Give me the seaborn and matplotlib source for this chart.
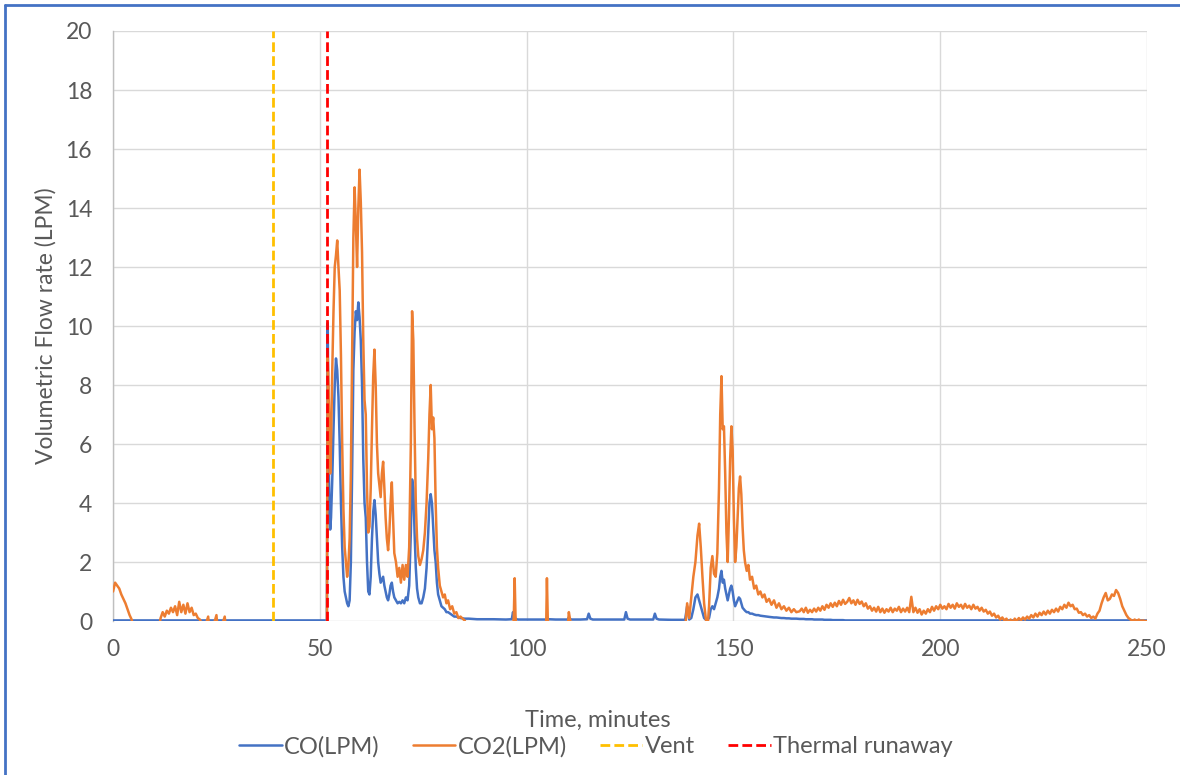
import matplotlib
matplotlib.use("Agg")
import matplotlib.pyplot as plt
from matplotlib.lines import Line2D
import seaborn as sns
import pandas as pd

# ---------------------------------------------------------------- data
# start-up, thermal-runaway burst and second venting episode
time_main = [
    0, 0.5, 1, 1.5, 2, 2.5, 3, 3.5, 4, 4.5,
    5, 8, 11, 11.5, 12, 12.5, 13, 13.5, 14, 14.5,
    15, 15.5, 16, 16.5, 17, 17.5, 18, 18.5, 19, 19.5,
    20, 20.5, 21, 22, 23, 23.3, 24, 25, 25.3, 26,
    27, 27.3, 28, 35, 45, 51.5, 51.7, 51.9, 52.1, 52.3,
    52.5, 52.7, 53.0, 53.3, 53.6, 53.9, 54.2, 54.5, 54.8, 55.1,
    55.4, 55.7, 56.0, 56.3, 56.6, 56.9, 57.2, 57.5, 57.8, 58.1,
    58.4, 58.7, 59.0, 59.3, 59.6, 59.9, 60.2, 60.5, 60.8, 61.1,
    61.4, 61.7, 62.0, 62.3, 62.6, 62.9, 63.2, 63.5, 63.8, 64.1,
    64.4, 64.7, 65.0, 65.3, 65.6, 65.9, 66.2, 66.5, 66.8, 67.1,
    67.4, 67.7, 68.0, 68.4, 68.8, 69.2, 69.6, 70.0, 70.4, 70.8,
    71.2, 71.6, 72.0, 72.3, 72.6, 72.9, 73.2, 73.5, 73.8, 74.2,
    74.6, 75.0, 75.4, 75.8, 76.2, 76.5, 76.8, 77.1, 77.4, 77.7,
    78.0, 78.3, 78.6, 79.0, 79.4, 79.8, 80.2, 80.6, 81.0, 81.5,
    82.0, 82.5, 83.0, 83.5, 84.0, 85.0, 86.0, 88.0, 90.0, 92.0,
    95, 96.4, 96.7, 96.9, 97.1, 97.3, 97.5, 98, 100, 103,
    104.7, 104.9, 105.1, 105.3, 107, 109.9, 110.2, 110.5, 111, 113,
    114.6, 115, 115.4, 116, 120, 123.6, 124, 124.4, 125, 128,
    130.6, 131, 131.4, 132, 135, 137.5, 138.3, 138.8, 139.3, 139.8,
    140.3, 140.8, 141.3, 141.7, 142.1, 142.5, 142.9, 143.3, 143.7, 144.1,
    144.5, 144.9, 145.3, 145.7, 146.1, 146.5, 146.8, 147.1, 147.4, 147.7,
    148.0, 148.3, 148.6, 148.9, 149.2, 149.5, 149.8, 150.1, 150.4, 150.7,
    151.0, 151.3, 151.6, 151.9, 152.2, 152.5, 152.8, 153.2, 153.6, 154.0,
    154.5, 155.0, 155.5, 156.0, 156.5, 157.0, 157.5, 158.0, 158.6, 159.2,
    159.8, 160.4, 161.0, 161.6, 162.2, 162.8, 163.4, 164.0, 164.6, 165.2,
]

co_main = [
    0.02, 0.02, 0.02, 0.02, 0.02, 0.02, 0.02, 0.02, 0.02, 0.02,
    0.02, 0.02, 0.02, 0.02, 0.02, 0.02, 0.02, 0.02, 0.02, 0.02,
    0.02, 0.02, 0.02, 0.02, 0.02, 0.02, 0.02, 0.02, 0.02, 0.02,
    0.02, 0.02, 0.02, 0.02, 0.02, 0.02, 0.02, 0.02, 0.02, 0.02,
    0.02, 0.02, 0.02, 0.02, 0.02, 0.02, 0.02, 10.1, 6.0, 4.0,
    3.1, 3.5, 4.8, 6.5, 8.0, 8.9, 8.5, 7.6, 6.0, 4.0,
    2.5, 1.5, 1.0, 0.8, 0.6, 0.5, 0.7, 2.0, 5.0, 8.5,
    9.8, 10.5, 10.2, 10.8, 10.3, 9.5, 8.0, 5.5, 4.0, 3.5,
    2.0, 1.0, 0.9, 1.5, 2.8, 3.7, 4.1, 3.6, 2.8, 2.0,
    1.6, 1.3, 1.4, 1.5, 1.2, 1.0, 0.8, 0.7, 0.9, 1.2,
    1.3, 1.0, 0.8, 0.7, 0.6, 0.65, 0.6, 0.7, 0.6, 0.8,
    0.7, 1.2, 3.0, 4.8, 4.5, 3.0, 1.8, 1.1, 0.8, 0.6,
    0.6, 0.8, 1.1, 1.8, 3.0, 4.0, 4.3, 4.0, 3.2, 2.4,
    2.0, 1.3, 0.9, 0.7, 0.5, 0.45, 0.4, 0.3, 0.3, 0.25,
    0.2, 0.15, 0.15, 0.12, 0.1, 0.08, 0.08, 0.06, 0.06, 0.06,
    0.05, 0.06, 0.3, 0.15, 0.1, 0.08, 0.06, 0.05, 0.05, 0.05,
    0.05, 0.06, 0.08, 0.06, 0.05, 0.05, 0.12, 0.06, 0.05, 0.05,
    0.06, 0.25, 0.08, 0.05, 0.05, 0.05, 0.3, 0.08, 0.05, 0.05,
    0.05, 0.25, 0.08, 0.05, 0.04, 0.04, 0.04, 0.5, 0.05, 0.1,
    0.4, 0.8, 0.9, 0.7, 0.5, 0.3, 0.1, 0.05, 0.04, 0.1,
    0.4, 0.5, 0.4, 0.6, 0.8, 1.1, 1.5, 1.7, 1.3, 1.4,
    1.1, 0.9, 0.7, 0.9, 1.1, 1.2, 1.0, 0.7, 0.5, 0.6,
    0.7, 0.8, 0.75, 0.6, 0.45, 0.4, 0.35, 0.3, 0.3, 0.25,
    0.25, 0.22, 0.2, 0.2, 0.18, 0.17, 0.16, 0.15, 0.14, 0.13,
    0.12, 0.12, 0.11, 0.1, 0.1, 0.09, 0.09, 0.08, 0.08, 0.08,
]

co2_main = [
    1.0, 1.3, 1.2, 1.1, 0.9, 0.75, 0.6, 0.4, 0.2, 0.05,
    -0.3, -0.3, -0.3, 0.1, 0.3, 0.15, 0.35, 0.25, 0.45, 0.3,
    0.5, 0.2, 0.65, 0.3, 0.55, 0.25, 0.6, 0.3, 0.45, 0.2,
    0.25, 0.1, 0.05, -0.3, 0.15, -0.3, -0.3, 0.2, -0.3, -0.3,
    0.15, -0.3, -0.3, -0.3, -0.3, -0.3, -0.3, 9.0, 8.0, 6.5,
    5.0, 6.0, 8.5, 10.5, 12.0, 12.4, 12.9, 12.0, 11.2, 9.0,
    6.0, 3.8, 2.5, 2.0, 1.5, 1.9, 2.8, 5.0, 9.0, 13.0,
    14.7, 13.5, 12.0, 14.0, 15.3, 14.2, 12.5, 9.5, 7.5, 7.0,
    4.5, 3.0, 3.2, 4.5, 6.5, 8.3, 9.2, 8.0, 6.0, 5.0,
    4.6, 4.2, 5.0, 5.4, 4.5, 3.5, 2.8, 2.4, 3.0, 4.0,
    4.7, 3.5, 2.3, 2.0, 1.5, 1.8, 1.3, 1.9, 1.4, 1.9,
    1.5, 2.5, 6.0, 10.5, 9.5, 6.5, 4.0, 2.8, 2.2, 1.9,
    2.1, 2.4, 3.0, 4.0, 5.5, 7.0, 8.0, 6.5, 6.9, 6.2,
    4.0, 2.5, 1.8, 1.2, 1.0, 0.8, 0.9, 0.6, 0.7, 0.4,
    0.5, 0.25, 0.3, 0.1, 0.15, 0.02, -0.3, -0.3, -0.3, -0.3,
    -0.3, -0.3, -0.3, 0.2, 1.45, 0.2, -0.3, -0.3, -0.3, -0.3,
    -0.3, 1.45, 0.1, -0.3, -0.3, -0.3, 0.3, 0.05, -0.3, -0.3,
    -0.3, -0.3, -0.3, -0.3, -0.3, -0.3, -0.3, -0.3, -0.3, -0.3,
    -0.3, -0.3, -0.3, -0.3, -0.3, -0.3, -0.3, 0.6, 0.1, 0.8,
    1.5, 2.0, 2.9, 3.3, 2.5, 1.5, 0.6, 0.1, -0.3, 0.5,
    1.8, 2.2, 1.6, 1.5, 2.3, 4.5, 7.0, 8.3, 6.5, 6.6,
    5.0, 3.0, 2.0, 3.5, 5.5, 6.6, 5.8, 3.5, 2.0, 2.5,
    3.5, 4.5, 4.9, 4.3, 3.2, 2.4, 2.0, 1.7, 1.9, 1.4,
    1.5, 1.1, 1.2, 0.9, 1.0, 0.8, 0.9, 0.65, 0.75, 0.55,
    0.7, 0.45, 0.6, 0.4, 0.5, 0.35, 0.45, 0.3, 0.4, 0.3,
]

# slow off-gassing tail
time_tail = [
    166, 166.5, 167, 167.5, 168, 168.5, 169, 169.5, 170, 170.5,
    171, 171.5, 172, 172.5, 173, 173.5, 174, 174.5, 175, 175.5,
    176, 176.5, 177, 177.5, 178, 178.5, 179, 179.5, 180, 180.5,
    181, 181.5, 182, 182.5, 183, 183.5, 184, 184.5, 185, 185.5,
    186, 186.5, 187, 187.5, 188, 188.5, 189, 189.5, 190, 190.5,
    191, 191.5, 192, 192.5, 193, 193.5, 194, 194.5, 195, 195.5,
    196, 196.5, 197, 197.5, 198, 198.5, 199, 199.5, 200, 200.5,
    201, 201.5, 202, 202.5, 203, 203.5, 204, 204.5, 205, 205.5,
    206, 206.5, 207, 207.5, 208, 208.5, 209, 209.5, 210, 210.5,
    211, 211.5, 212, 212.5, 213, 213.5, 214, 214.5, 215, 215.5,
    216, 216.5, 217, 217.5, 218, 218.5, 219, 219.5, 220, 220.5,
    221, 221.5, 222, 222.5, 223, 223.5, 224, 224.5, 225, 225.5,
    226, 226.5, 227, 227.5, 228, 228.5, 229, 229.5, 230, 230.5,
    231, 231.5, 232, 232.5, 233, 233.5, 234, 234.5, 235, 235.5,
    236, 236.5, 237, 237.5, 238, 238.5, 239, 239.5, 240, 240.5,
    241, 241.5, 242, 242.5, 243, 243.5, 244, 244.5, 245, 245.5,
    246, 246.5, 247, 247.5, 248, 248.5, 249, 249.5, 250,
]

co_tail = [
    0.07, 0.07, 0.07, 0.06, 0.06, 0.06, 0.06, 0.05, 0.05, 0.05,
    0.05, 0.05, 0.04, 0.04, 0.04, 0.04, 0.03, 0.03, 0.03, 0.03,
    0.03, 0.03, 0.02, 0.02, 0.02, 0.02, 0.02, 0.02, 0.02, 0.02,
    0.02, 0.02, 0.02, 0.02, 0.02, 0.02, 0.02, 0.02, 0.02, 0.02,
    0.02, 0.02, 0.02, 0.02, 0.02, 0.02, 0.02, 0.02, 0.02, 0.02,
    0.02, 0.02, 0.02, 0.02, 0.02, 0.02, 0.02, 0.02, 0.02, 0.02,
    0.02, 0.02, 0.02, 0.02, 0.02, 0.02, 0.02, 0.02, 0.02, 0.02,
    0.02, 0.02, 0.02, 0.02, 0.02, 0.02, 0.02, 0.02, 0.02, 0.02,
    0.02, 0.02, 0.02, 0.02, 0.02, 0.02, 0.02, 0.02, 0.02, 0.02,
    0.02, 0.02, 0.02, 0.02, 0.02, 0.02, 0.02, 0.02, 0.02, 0.02,
    0.02, 0.02, 0.02, 0.02, 0.02, 0.02, 0.02, 0.02, 0.02, 0.02,
    0.02, 0.02, 0.02, 0.02, 0.02, 0.02, 0.02, 0.02, 0.02, 0.02,
    0.02, 0.02, 0.02, 0.02, 0.02, 0.02, 0.02, 0.02, 0.02, 0.02,
    0.02, 0.02, 0.02, 0.02, 0.02, 0.02, 0.02, 0.02, 0.02, 0.02,
    0.02, 0.02, 0.02, 0.02, 0.02, 0.02, 0.02, 0.02, 0.02, 0.02,
    0.02, 0.02, 0.02, 0.02, 0.02, 0.02, 0.02, 0.02, 0.02, 0.02,
    0.02, 0.02, 0.02, 0.02, 0.02, 0.02, 0.02, 0.02, 0.02,
]

co2_tail = [
    0.33, 0.42, 0.3, 0.45, 0.28, 0.38, 0.3, 0.42, 0.32, 0.45,
    0.35, 0.5, 0.38, 0.55, 0.45, 0.6, 0.48, 0.62, 0.5, 0.68,
    0.55, 0.72, 0.58, 0.65, 0.78, 0.6, 0.7, 0.55, 0.72, 0.58,
    0.66, 0.5, 0.6, 0.42, 0.5, 0.35, 0.45, 0.32, 0.48, 0.3,
    0.42, 0.28, 0.4, 0.32, 0.45, 0.3, 0.42, 0.35, 0.48, 0.3,
    0.42, 0.32, 0.45, 0.3, 0.82, 0.3, 0.45, 0.28, 0.4, 0.22,
    0.35, 0.25, 0.4, 0.3, 0.48, 0.35, 0.5, 0.4, 0.55, 0.42,
    0.5, 0.4, 0.58, 0.45, 0.55, 0.42, 0.6, 0.48, 0.55, 0.42,
    0.58, 0.45, 0.52, 0.4, 0.55, 0.42, 0.48, 0.35, 0.45, 0.32,
    0.38, 0.25, 0.32, 0.18, 0.25, 0.12, 0.18, 0.05, 0.12, 0.02,
    0.08, -0.05, 0.05, -0.05, 0.08, 0.0, 0.1, 0.02, 0.12, 0.05,
    0.15, 0.08, 0.2, 0.12, 0.25, 0.15, 0.28, 0.2, 0.32, 0.22,
    0.35, 0.25, 0.38, 0.3, 0.42, 0.32, 0.48, 0.4, 0.55, 0.45,
    0.62, 0.5, 0.55, 0.4, 0.42, 0.28, 0.3, 0.2, 0.25, 0.15,
    0.2, 0.1, 0.15, 0.08, 0.25, 0.35, 0.6, 0.8, 0.95, 0.7,
    0.75, 0.9, 0.85, 1.05, 0.95, 0.75, 0.5, 0.35, 0.2, 0.1,
    0.05, 0.0, 0.05, 0.0, 0.05, 0.0, 0.02, 0.0, 0.0,
]

event_names = ["Vent", "Thermal runaway"]
event_times = [38.7, 51.7]

time_min = time_main + time_tail
co_lpm = co_main + co_tail
co2_lpm = co2_main + co2_tail
assert len(time_min) == len(co_lpm) == len(co2_lpm)

# ---------------------------------------------------------------- style
sns.set_style("white")
plt.rcParams["font.family"] = ["Lato", "DejaVu Sans"]

BLUE = "#4472C4"
ORANGE = "#ED7D31"
EVENT_COLORS = ["#FFC000", "#FF0000"]
GRID = "#D9D9D9"
TEXT = "#595959"

fig = plt.figure(figsize=(11.8, 7.75), dpi=100)
ax = fig.add_axes([0.0958, 0.1987, 0.8763, 0.7613])

df = pd.DataFrame({"time": time_min, "CO(LPM)": co_lpm, "CO2(LPM)": co2_lpm})

sns.lineplot(data=df, x="time", y="CO(LPM)", ax=ax, color=BLUE,
             linewidth=1.8, label="CO(LPM)", zorder=3)
sns.lineplot(data=df, x="time", y="CO2(LPM)", ax=ax, color=ORANGE,
             linewidth=1.8, label="CO2(LPM)", zorder=4)

for name, t, c in zip(event_names, event_times, EVENT_COLORS):
    ax.axvline(t, color=c, linewidth=2.0, linestyle=(0, (3.5, 1.5)),
               label=name, zorder=5)

ax.set_xlim(0, 250)
ax.set_ylim(0, 20)
ax.set_xticks(range(0, 251, 50))
ax.set_yticks(range(0, 21, 2))
ax.grid(True, color=GRID, linewidth=1.0)
ax.set_axisbelow(True)

for side in ["top", "right", "bottom"]:
    ax.spines[side].set_visible(False)
ax.spines["left"].set_color("#BFBFBF")
ax.spines["left"].set_linewidth(1.0)

ax.tick_params(axis="both", length=0, labelsize=16.5, labelcolor=TEXT)
ax.tick_params(axis="x", pad=13)
ax.tick_params(axis="y", pad=15)

ax.set_xlabel("")
ax.set_ylabel("Volumetric Flow rate (LPM)", fontsize=16.5, color=TEXT)
ax.yaxis.set_label_coords(-0.055, 0.5)

fig.text(0.507, 0.071, "Time, minutes", ha="center", va="center",
         fontsize=17, color=TEXT)

handles, labels = ax.get_legend_handles_labels()
ax.get_legend().remove()
fig.legend(handles, labels, loc="center", bbox_to_anchor=(0.505, 0.037),
           ncol=4, frameon=False, fontsize=17, labelcolor=TEXT,
           handlelength=1.8, handletextpad=0.1, columnspacing=1.4)

# chart frame (top and left edges)
fig.add_artist(Line2D([0.0045, 1.0], [0.9935, 0.9935], color=BLUE,
                      linewidth=2.0, transform=fig.transFigure))
fig.add_artist(Line2D([0.0045, 0.0045], [0.0, 0.9935], color=BLUE,
                      linewidth=2.0, transform=fig.transFigure))

fig.savefig("out.png", dpi=100)
